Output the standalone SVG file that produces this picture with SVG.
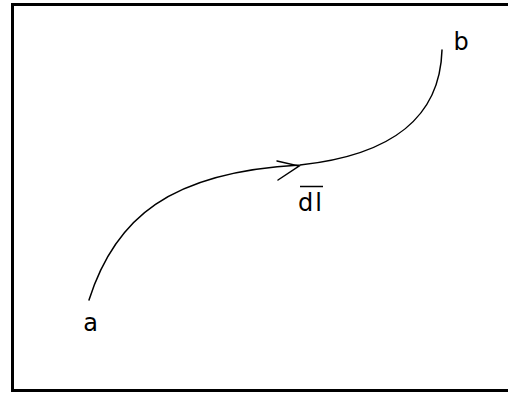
<svg xmlns="http://www.w3.org/2000/svg" width="508" height="393" viewBox="0 0 508 393">
<style>
.lbl{font-family:"DejaVu Sans",sans-serif;font-size:24px;fill:#000}
.ln{fill:none;stroke:#000;stroke-width:1.5;stroke-linecap:round}
</style>
<rect x="0" y="0" width="508" height="393" fill="#fff"/>
<rect x="12.5" y="4.5" width="520" height="386" fill="none" stroke="#000" stroke-width="3"/>
<g id="connectors">
<path class="ln" d="M89,300 C115,218 170,172 300,165 C392,155 440,118 442,50"/>
<polyline class="ln" points="277,161 299,166 278,180"/>
</g>
<g id="a"><text class="lbl" x="90.5" y="331" text-anchor="middle">a</text></g>
<g id="b"><text class="lbl" x="461" y="50" text-anchor="middle">b</text></g>
<g id="dl"><text class="lbl" x="298" y="211" letter-spacing="2">dl</text><line x1="300" y1="186.5" x2="323" y2="186.5" stroke="#000" stroke-width="1.5"/></g>
</svg>
